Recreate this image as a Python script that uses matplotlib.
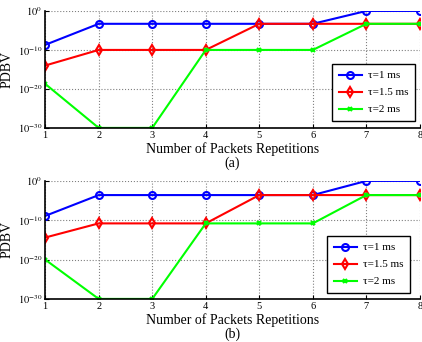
import numpy as np
import matplotlib
matplotlib.use("Agg")
import matplotlib.pyplot as plt

plt.rcParams["font.family"] = ["Liberation Serif", "DejaVu Serif"]
plt.rcParams["mathtext.fontset"] = "stix"

repetitions = [1, 2, 3, 4, 5, 6, 7, 8]
labels = ["\u03c4=1 ms", "\u03c4=1.5 ms", "\u03c4=2 ms"]

# log10 of PDBV
exp_a_1 = [-8.7, -3.3, -3.3, -3.3, -3.3, -3.3, 0, 0]
exp_a_15 = [-14, -10, -10, -10, -3.3, -3.3, -3.3, -3.3]
exp_a_2 = [-18.7, -30, -30, -10, -10, -10, -3.3, -3.3]

exp_b_1 = [-8.9, -3.6, -3.6, -3.6, -3.6, -3.6, 0, 0]
exp_b_15 = [-14.4, -10.8, -10.8, -10.8, -3.6, -3.6, -3.6, -3.6]
exp_b_2 = [-20, -30, -30, -10.8, -10.8, -10.8, -3.6, -3.6]

yticks = [1e-30, 1e-20, 1e-10, 1e0]
ytick_labels = [r"$10^{-30}$", r"$10^{-20}$", r"$10^{-10}$", r"$10^{0}$"]

fig = plt.figure(figsize=(4.22, 3.42), dpi=100)
ax_a = fig.add_axes([0.107, 0.626, 0.888, 0.342])
ax_b = fig.add_axes([0.107, 0.126, 0.888, 0.345])


def draw(ax, e1, e15, e2, tag, legend_anchor):
    ax.semilogy(repetitions, 10.0 ** np.array(e1), color="blue", lw=1.5,
                marker="o", ms=5, mfc="none", mew=1.5, label=labels[0])
    ax.semilogy(repetitions, 10.0 ** np.array(e15), color="red", lw=1.5,
                marker="d", ms=5, mfc="none", mew=1.5, label=labels[1])
    ax.semilogy(repetitions, 10.0 ** np.array(e2), color="#00ff00", lw=1.5,
                marker="x", ms=3, mew=1.5, label=labels[2])
    ax.set_xlim(1, 8)
    ax.set_ylim(1e-30, 1e0)
    ax.set_yticks(yticks)
    ax.set_yticklabels(ytick_labels)
    ax.minorticks_off()
    ax.tick_params(direction="in", labelsize=7.5, length=3, pad=2)
    ax.grid(True, linestyle=":", color="gray", linewidth=0.8)
    ax.spines["top"].set_visible(False)
    ax.spines["right"].set_visible(False)
    ax.spines["left"].set_linewidth(1.2)
    ax.spines["bottom"].set_linewidth(1.2)
    ax.set_xlabel("Number of Packets Repetitions\n" + tag, fontsize=10,
                  labelpad=2, linespacing=1.0)
    ax.set_ylabel("PDBV", fontsize=10)
    ax.yaxis.set_label_coords(-0.085, 0.5)
    leg = ax.legend(loc="upper left", bbox_to_anchor=legend_anchor,
                    bbox_transform=fig.transFigure, fontsize=8,
                    fancybox=False, framealpha=1, edgecolor="black",
                    handlelength=2.1, handletextpad=0.5, borderpad=0.6,
                    labelspacing=0.65, borderaxespad=0)
    leg.get_frame().set_linewidth(1.0)


draw(ax_a, exp_a_1, exp_a_15, exp_a_2, "(a)", (332 / 422, 1 - 64 / 342))
draw(ax_b, exp_b_1, exp_b_15, exp_b_2, "(b)", (327 / 422, 1 - 236 / 342))

fig.savefig("out.png", dpi=100)
